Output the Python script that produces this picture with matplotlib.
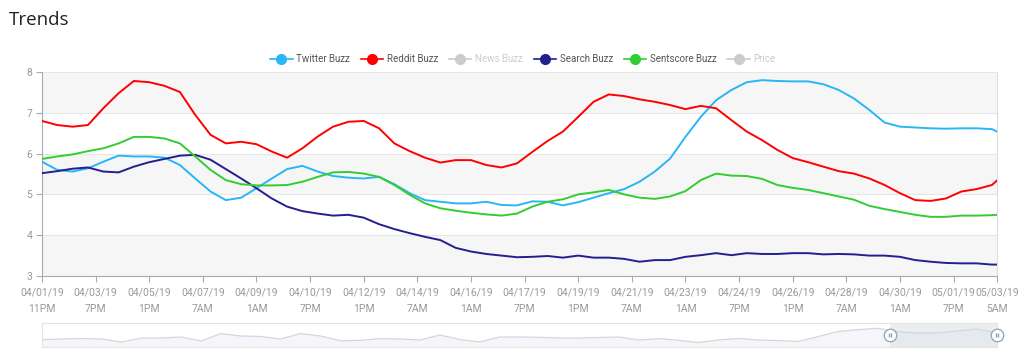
import numpy as np
import matplotlib
matplotlib.use("Agg")
import matplotlib.pyplot as plt
from matplotlib.lines import Line2D

plt.rcParams['font.family'] = ['Roboto', 'DejaVu Sans']

# x = point index along the category axis (hourly points)
idx = np.r_[np.arange(0, 745, 12), 748]

twitter = [5.80, 5.60, 5.56, 5.64, 5.80, 5.95, 5.93, 5.93, 5.90, 5.72, 5.39, 5.07, 4.86, 4.92, 5.15, 5.39, 5.62,
           5.70, 5.56, 5.45, 5.41, 5.39, 5.43, 5.25, 5.03, 4.86, 4.82, 4.78, 4.78, 4.82, 4.74, 4.73, 4.83,
           4.82, 4.73, 4.81, 4.92, 5.03, 5.13, 5.31, 5.56, 5.88, 6.41, 6.90, 7.31, 7.56, 7.75, 7.80,
           7.78, 7.77, 7.77, 7.70, 7.56, 7.35, 7.07, 6.76, 6.66, 6.64, 6.62, 6.61, 6.62, 6.62, 6.60, 6.54]
reddit = [6.80, 6.70, 6.66, 6.70, 7.11, 7.48, 7.78, 7.75, 7.66, 7.51, 6.95, 6.46, 6.25, 6.29, 6.23, 6.05, 5.90,
          6.13, 6.42, 6.66, 6.78, 6.80, 6.62, 6.25, 6.06, 5.90, 5.78, 5.84, 5.84, 5.72, 5.66, 5.76, 6.04,
          6.31, 6.54, 6.90, 7.27, 7.45, 7.41, 7.33, 7.27, 7.19, 7.09, 7.17, 7.11, 6.82, 6.54, 6.33,
          6.09, 5.89, 5.79, 5.68, 5.57, 5.51, 5.39, 5.23, 5.03, 4.86, 4.84, 4.90, 5.07, 5.13, 5.23, 5.34]
search = [5.52, 5.57, 5.63, 5.66, 5.56, 5.54, 5.68, 5.79, 5.87, 5.95, 5.97, 5.85, 5.62, 5.39, 5.15, 4.90, 4.70,
          4.59, 4.53, 4.48, 4.50, 4.43, 4.27, 4.15, 4.05, 3.96, 3.88, 3.69, 3.60, 3.54, 3.50, 3.46, 3.47,
          3.49, 3.45, 3.50, 3.45, 3.45, 3.42, 3.35, 3.39, 3.39, 3.47, 3.51, 3.56, 3.51, 3.56, 3.54,
          3.54, 3.56, 3.56, 3.53, 3.54, 3.53, 3.50, 3.50, 3.47, 3.39, 3.35, 3.32, 3.31, 3.31, 3.28, 3.28]
sentscore = [5.87, 5.93, 5.98, 6.06, 6.13, 6.25, 6.41, 6.41, 6.37, 6.25, 5.93, 5.60, 5.35, 5.25, 5.22, 5.22, 5.23,
             5.31, 5.43, 5.54, 5.55, 5.51, 5.43, 5.23, 4.99, 4.78, 4.66, 4.60, 4.55, 4.51, 4.48, 4.53, 4.70,
             4.82, 4.88, 5.00, 5.05, 5.11, 5.00, 4.92, 4.89, 4.95, 5.08, 5.35, 5.51, 5.46, 5.45, 5.38,
             5.23, 5.16, 5.11, 5.03, 4.95, 4.87, 4.72, 4.64, 4.57, 4.50, 4.45, 4.45, 4.48, 4.48, 4.49, 4.50]

tick_pos = np.r_[np.arange(0, 715, 42), 748]
tick_label = ['04/01/19\n11PM', '04/03/19\n7PM', '04/05/19\n1PM', '04/07/19\n7AM', '04/09/19\n1AM',
              '04/10/19\n7PM', '04/12/19\n1PM', '04/14/19\n7AM', '04/16/19\n1AM', '04/17/19\n7PM',
              '04/19/19\n1PM', '04/21/19\n7AM', '04/23/19\n1AM', '04/24/19\n7PM', '04/26/19\n1PM',
              '04/28/19\n7AM', '04/30/19\n1AM', '05/01/19\n7PM', '05/03/19\n5AM']

# overview line in the zoom slider (arbitrary units)
slider_vals = [7.3, 8, 8.5, 8, 5, 9, 9, 10, 6, 13.5, 11, 10.5, 8, 13.5, 11, 6.3, 6.7, 8.3, 8, 7, 12, 7.5, 5,
               10, 10, 9.7, 9, 9, 9.5, 10, 7, 8.3, 6.7, 4.5, 7, 8.5, 7, 6.5, 5.5, 10.3, 15.5, 17.3, 18.7,
               15.3, 14, 14, 16, 18, 14]

series = [('Twitter Buzz', twitter, '#29b6f6'),
          ('Reddit Buzz', reddit, '#ff0000'),
          ('News Buzz', None, '#cccccc'),
          ('Search Buzz', search, '#231f8f'),
          ('Sentscore Buzz', sentscore, '#33cc33'),
          ('Price', None, '#cccccc')]

W, H = 1024, 359
fig = plt.figure(figsize=(W / 100, H / 100), dpi=100)
ax = fig.add_axes([42 / W, 1 - 276 / H, 955 / W, 204 / H])

# alternating bands + grid
for lo in (3, 5, 7):
    ax.axhspan(lo, lo + 1, color='#f6f6f6', zorder=0, lw=0)
for y in range(4, 9):
    ax.axhline(y, color='#e6e6e6', lw=0.8, zorder=1)

for name, vals, col in series:
    if vals is not None:
        ax.plot(idx, vals, color=col, lw=1.4, zorder=3)

ax.set_xlim(0, 748)
ax.set_ylim(3, 8)
ax.set_yticks(range(3, 9))
ax.set_xticks(tick_pos)
ax.set_xticklabels(tick_label, linespacing=1.9)
ax.tick_params(axis='both', colors='#aaaaaa', labelcolor='#999999', labelsize=7.5, length=4, width=0.8)
ax.tick_params(axis='x', pad=4)
ax.tick_params(axis='y', pad=3)
for s in ('left', 'bottom'):
    ax.spines[s].set_color('#aaaaaa')
ax.spines['right'].set_color('#dddddd')
ax.spines['top'].set_visible(False)

# title
fig.text(9 / W, 1 - 20 / H, 'Trends', fontsize=13.5, color='#222222', va='center', ha='left',
         family=['Open Sans', 'DejaVu Sans'])

# legend
handles = [Line2D([], [], color=c, marker='o', markersize=7, lw=1.2) for _, _, c in series]
leg = fig.legend(handles, [n for n, _, _ in series], loc='center', bbox_to_anchor=(523 / W, 1 - 59 / H),
                 ncol=6, frameon=False, fontsize=7, handlelength=2.3, handletextpad=0.4,
                 columnspacing=1.1)
for t, (_, vals, c) in zip(leg.get_texts(), series):
    t.set_color('#555555' if vals is not None else '#cccccc')

# zoom slider
sx = fig.add_axes([42 / W, 1 - 347 / H, 955 / W, 24 / H])
xs = np.linspace(0, 1, len(slider_vals))
sx.fill_between(xs, 0, slider_vals, color='#f4f6f9', lw=0)
sx.plot(xs, slider_vals, color='#d2d7dc', lw=0.9)
sel = (890 - 42) / 955
sx.axvspan(sel, 1, color='#dde3e8', alpha=0.6, lw=0)
for hx in (sel, 1.0):
    sx.plot([hx], [12], marker='o', ms=9, mfc='white', mec='#8ea2b6', mew=0.9, clip_on=False, zorder=5)
    sx.plot([hx], [12], marker='$||$', ms=3.5, color='#8ea2b6', clip_on=False, zorder=6)
sx.set_xlim(0, 1)
sx.set_ylim(0, 24)
sx.set_xticks([])
sx.set_yticks([])
for s in sx.spines.values():
    s.set_color('#e4e4e4')
    s.set_linewidth(0.8)

fig.savefig('out.png', dpi=100)
